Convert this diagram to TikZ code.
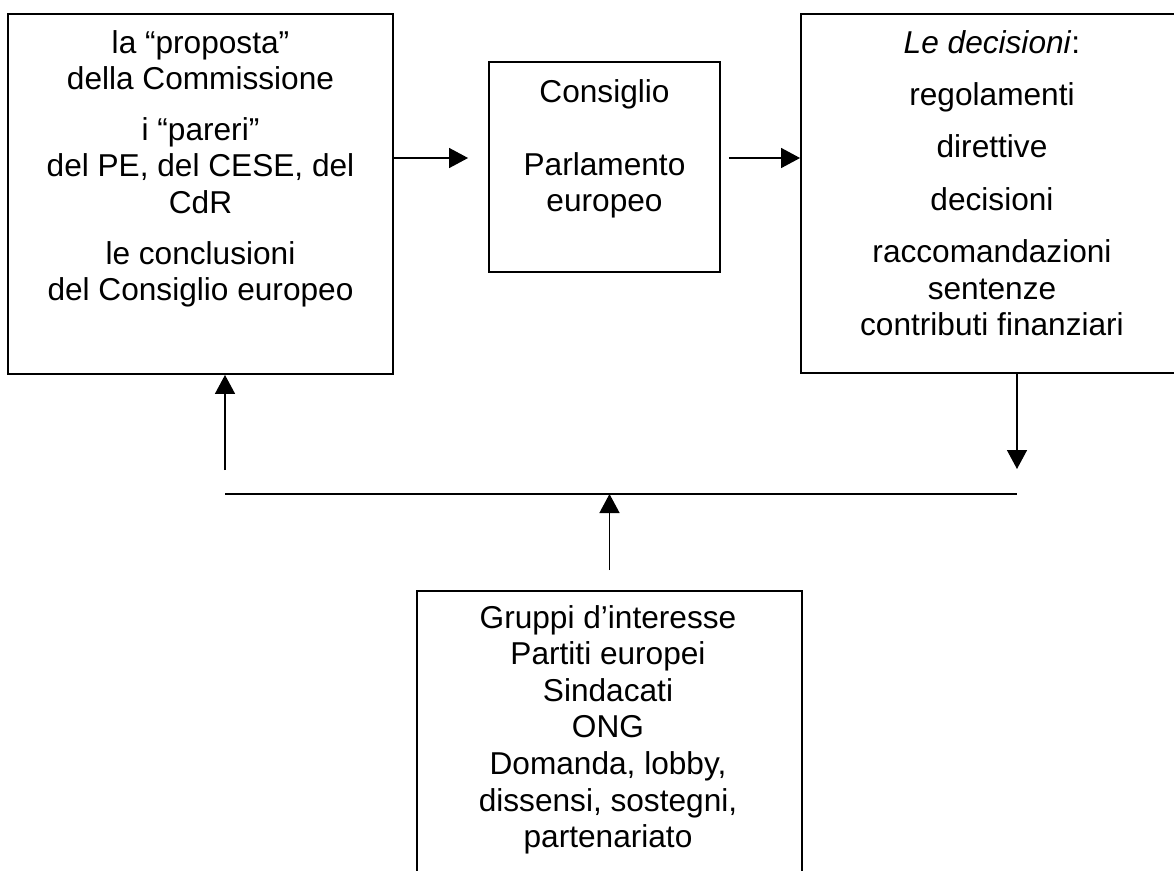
\documentclass[tikz,border=0pt]{standalone}
\usepackage{fontspec}
\setmainfont{Liberation Sans}
\usetikzlibrary{arrows.meta, calc}

\begin{document}
\begin{tikzpicture}[
    x=0.02cm, y=-0.02cm,
    box/.style={draw, line width=1.1pt, inner sep=0pt},
    txt/.style={align=center, inner sep=0pt, anchor=north, font=\fontsize{18}{20.8}\selectfont},
    arrow/.style={-{Triangle[length=0.38cm, width=0.4cm]}, line width=0.8pt},
    link/.style={line width=0.8pt}
]
    \useasboundingbox (0,0) rectangle (1174,870);
    \clip (0,0) rectangle (1174,870);

    \node[box, minimum width=7.7cm, minimum height=7.2cm] (prop) at (200.5,194) {};
    \node[box, minimum width=4.62cm, minimum height=4.2cm] (cons) at (604.5,167) {};
    \node[box, minimum width=7.68cm, minimum height=7.18cm] (dec) at (993,193.5) {};
    \node[box, minimum width=7.7cm, minimum height=6.18cm] (grp) at (609.5,745.5) {};

    \node[txt] (propt) at (200.5,30) {la “proposta”\\della Commissione\\[8pt]i “pareri”\\del PE, del CESE, del\\CdR\\[8pt]le conclusioni\\del Consiglio europeo};
    \node[txt] (const) at (604.5,79) {Consiglio\\[20.8pt]Parlamento\\europeo};
    \node[txt] (dect) at (992,30) {\textit{Le decisioni}:\\[9pt]regolamenti\\[9pt]direttive\\[9pt]decisioni\\[9pt]raccomandazioni\\sentenze\\contributi finanziari};
    \node[txt] (grpt) at (608,605) {Gruppi d’interesse\\Partiti europei\\Sindacati\\ONG\\Domanda, lobby,\\dissensi, sostegni,\\partenariato};

    \coordinate (lev) at (0,158);
    \coordinate (busL) at (225,494);
    \coordinate (busR) at (1017,494);

    \draw[arrow, shorten >=0.4cm] (prop.east |- lev) -- (cons.west |- lev);
    \draw[arrow, shorten <=0.16cm] (cons.east |- lev) -- (dec.west |- lev);
    \draw[arrow, shorten >=0.5cm] (dec.south -| busR) -- (busR);
    \draw[link] (busL) -- (busR);
    \draw[arrow, shorten <=0.48cm] (busL) -- (prop.south -| busL);
    \draw[arrow, shorten <=0.4cm] (grp.north) -- (grp.north |- busL);
\end{tikzpicture}
\end{document}
